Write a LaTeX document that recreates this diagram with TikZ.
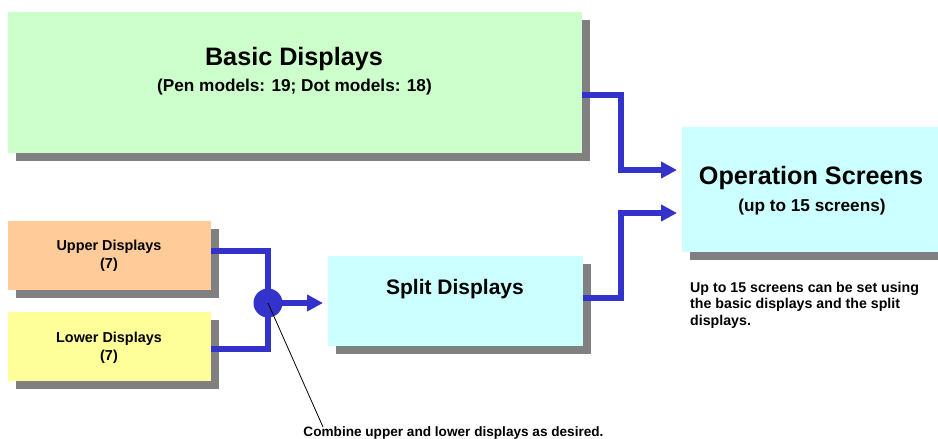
\documentclass[tikz,border=0pt]{standalone}
\usepackage{fontspec}
\setmainfont{Liberation Sans}
\usetikzlibrary{arrows.meta,shadows}
\definecolor{boxgreen}{HTML}{CCFFCC}
\definecolor{boxcyan}{HTML}{CCFFFF}
\definecolor{boxorange}{HTML}{FFCC99}
\definecolor{boxyellow}{HTML}{FFFF99}
\definecolor{shadowgray}{HTML}{808080}
\definecolor{linkblue}{HTML}{3333CC}
\tikzset{
  panel/.style={draw=none, inner sep=0pt, outer sep=0pt,
    general shadow={fill=shadowgray, shadow xshift=8pt, shadow yshift=-8pt}},
  link/.style={draw=linkblue, line width=6pt},
  arrowlink/.style={link, -{Triangle[length=16pt,width=16pt]}, shorten >=5pt},
  txt/.style={inner sep=0pt, font=\bfseries},
}
\begin{document}
\begin{tikzpicture}[x=1pt,y=-1pt]
\useasboundingbox (0,0) rectangle (938,439);

% boxes
\node[panel, fill=boxgreen, minimum width=574pt, minimum height=141pt] (basic) at (295,82.5) {};
\node[panel, fill=boxcyan, minimum width=258pt, minimum height=125pt] (ops) at (811,189.5) {};
\node[panel, fill=boxorange, minimum width=203pt, minimum height=69pt] (upper) at (109.5,255.5) {};
\node[panel, fill=boxyellow, minimum width=203pt, minimum height=69pt] (lower) at (109.5,346.5) {};
\node[panel, fill=boxcyan, minimum width=255pt, minimum height=90pt] (split) at (455.5,301) {};

% box texts
\node[txt, font=\bfseries\fontsize{25.2}{28}\selectfont] (basict) at (294,59) {Basic Displays};
\node[txt, font=\bfseries\fontsize{17.2}{19}\selectfont] (basics) at (294.5,87) {(Pen models: 19; Dot models: 18)};
\node[txt, font=\bfseries\fontsize{25.2}{28}\selectfont] (opst) at (811,178) {Operation Screens};
\node[txt, font=\bfseries\fontsize{17.2}{19}\selectfont] (opss) at (812,207) {(up to 15 screens)};
\node[txt, font=\bfseries\fontsize{21}{24}\selectfont] (splitt) at (455,289) {Split Displays};
\node[txt, font=\bfseries\fontsize{14.4}{18}\selectfont, align=center] (uppert) at (109,256) {Upper Displays\\(7)};
\node[txt, font=\bfseries\fontsize{14.4}{18}\selectfont, align=center] (lowert) at (109,347.5) {Lower Displays\\(7)};

% notes
\node[txt, font=\bfseries\fontsize{14.2}{16.5}\selectfont, align=left, anchor=north west] (opsnote) at (690,282) {Up to 15 screens can be set using\\the basic displays and the split\\displays.};
\node[txt, font=\bfseries\fontsize{13.6}{17}\selectfont] (combine) at (453.5,433) {Combine upper and lower displays as desired.};

% junction of the partial displays
\node[circle, fill=linkblue, minimum size=29pt, inner sep=0pt] (junc) at (268,303) {};

% connectors
\draw[link] ([yshift=4.5pt]upper.east) -| (junc.center);
\draw[link] ([yshift=-2.5pt]lower.east) -| (junc.center);
\draw[arrowlink] (junc.center) -- (split.west |- junc.center);
\draw[arrowlink] ([yshift=-12.5pt]basic.east) -- ++(39,0) |- ([yshift=19.5pt]ops.west);
\draw[arrowlink] ([yshift=3pt]split.east) -- ++(38,0) |- ([yshift=-23.5pt]ops.west);

% pointer to the note
\coordinate (cmbtip) at (323,427);
\draw[black, line width=0.8pt] (junc.center) -- (cmbtip);
\end{tikzpicture}
\end{document}
